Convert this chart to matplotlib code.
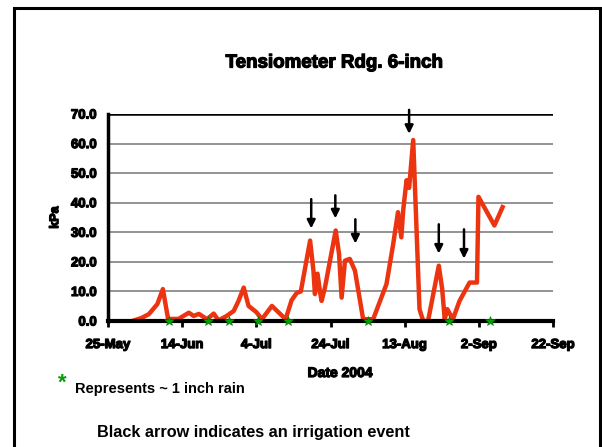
import matplotlib.pyplot as plt
import matplotlib.patheffects as pe
from matplotlib.patches import Rectangle

# Tensiometer reading, days after 25-May-2004
days = [6.5, 9, 11, 13.3, 14.8, 16.2, 19, 21.8, 23.1, 24.5, 26.7, 28.5, 29.8,
        32, 33.9, 35.2, 36.6, 37.9, 40, 41.5, 44.2, 47.9, 49.5, 50.9, 52,
        54.5, 55.4, 55.8, 56.5, 57.2, 57.6, 58.5, 61.4, 62.3, 63, 63.9, 65.2,
        66.6, 68.8, 71.5, 75.1, 76.9, 78.2, 79.1, 79.6, 80.5, 81.2, 82.3, 84,
        85, 86.3, 89.2, 90.1, 90.8, 91.5, 93, 94.8, 97.5, 99.5, 99.9, 104.2, 106.4]
kpa = [0, 1, 2.3, 5.7, 10.8, 0.7, 0.7, 2.8, 1.7, 2.4, 0.6, 2.5, 0.2,
       1.7, 3.4, 6.8, 11.3, 5.1, 3.0, 0.6, 5.1, 0.6, 7.0, 9.5, 10,
       27.2, 17, 9.1, 16, 9.6, 6.8, 11.3, 30.6, 22.7, 7.9, 20.4, 21,
       17, 0.6, 0.6, 12.5, 26, 36.8, 28.3, 37.4, 47.6, 45, 61.2, 4,
       0, 0, 18.7, 11, 0.6, 4, 0.6, 6.8, 13, 13, 42, 32.3, 38.5]

# ~1 inch rain events (days after 25-May)
rain_days = [16.5, 27, 32.5, 40.5, 48.5, 70, 92, 103]

# irrigation events: (day, arrow top, arrow tip)
arrow_days = [54.8, 61.3, 66.7, 81.2, 89.2, 96]
arrow_top = [41.2, 42.5, 34.4, 71.4, 32.7, 31]
arrow_tip = [31.3, 34.7, 26.2, 63.3, 22.8, 21.1]

tick_days = [0, 20, 40, 60, 80, 100, 120]
tick_labels = ["25-May", "14-Jun", "4-Jul", "24-Jul", "13-Aug", "2-Sep", "22-Sep"]

plt.rcParams['font.family'] = ['Liberation Sans', 'DejaVu Sans']
heavy = [pe.withStroke(linewidth=0.9, foreground="black")]

fig = plt.figure(figsize=(6.02, 4.47), dpi=100)
W, H = 602, 447
ax = fig.add_axes([108 / W, 1 - 321 / H, 445 / W, 207 / H])

ax.plot(days, kpa, color="#EC3410", lw=3.2, zorder=3)
ax.plot(rain_days, [0] * len(rain_days), linestyle="none", marker="*",
        markersize=7, color="#00A000", markeredgecolor="#007000",
        markeredgewidth=0.4, zorder=5, clip_on=False)

for d, top, tip in zip(arrow_days, arrow_top, arrow_tip):
    ax.annotate("", xy=(d, tip), xytext=(d, top),
                arrowprops=dict(arrowstyle="-|>", color="black", lw=1.8,
                                mutation_scale=12, shrinkA=0, shrinkB=0),
                annotation_clip=False, zorder=6)

ax.set_xlim(0, 120)
ax.set_ylim(0, 70)
ax.set_xticks(tick_days)
ax.set_xticklabels(tick_labels, fontsize=9.5, fontweight="bold")
ax.set_yticks(range(0, 80, 10))
ax.set_yticklabels([f"{v:.1f}" for v in range(0, 80, 10)], fontsize=9.5,
                   fontweight="bold")
for lab in ax.get_xticklabels() + ax.get_yticklabels():
    lab.set_path_effects(heavy)
ax.tick_params(axis="x", length=4, width=2, direction="out", pad=9)
ax.tick_params(axis="y", length=0, pad=8)

for v in range(10, 70, 10):
    ax.axhline(v, color="#808080", lw=1.2, zorder=1)
ax.axhline(70, color="black", lw=1.8, zorder=2)

for s in ["top", "right"]:
    ax.spines[s].set_visible(False)
ax.spines["left"].set_linewidth(2.5)
ax.spines["bottom"].set_linewidth(3)
ax.spines["bottom"].set_zorder(4)

ax.set_ylabel("kPa", fontsize=9, fontweight="bold", labelpad=7,
              path_effects=heavy)
fig.text(340 / W, 1 - 373 / H, "Date 2004", ha="center", va="center",
         fontsize=10, fontweight="bold", path_effects=heavy)

fig.text(334 / W, 1 - 63 / H, "Tensiometer Rdg. 6-inch", ha="center",
         va="center", fontsize=13.5, fontweight="bold", path_effects=heavy)
fig.text(62 / W, 1 - 383 / H, "*", ha="center", va="center", fontsize=16,
         fontweight="bold", color="#00A000")
fig.text(75 / W, 1 - 389 / H, "Represents ~ 1 inch rain", ha="left",
         va="center", fontsize=10.5, fontweight="bold")
fig.text(97 / W, 1 - 433 / H, "Black arrow indicates an irrigation event",
         ha="left", va="center", fontsize=11.7, fontweight="bold")

# outer frame
fig.patches.append(Rectangle((14 / W, -0.05), 586 / W, 1 - 8 / H + 0.05,
                             transform=fig.transFigure, fill=False,
                             edgecolor="black", lw=2.2))

fig.savefig("out.png", dpi=100)
